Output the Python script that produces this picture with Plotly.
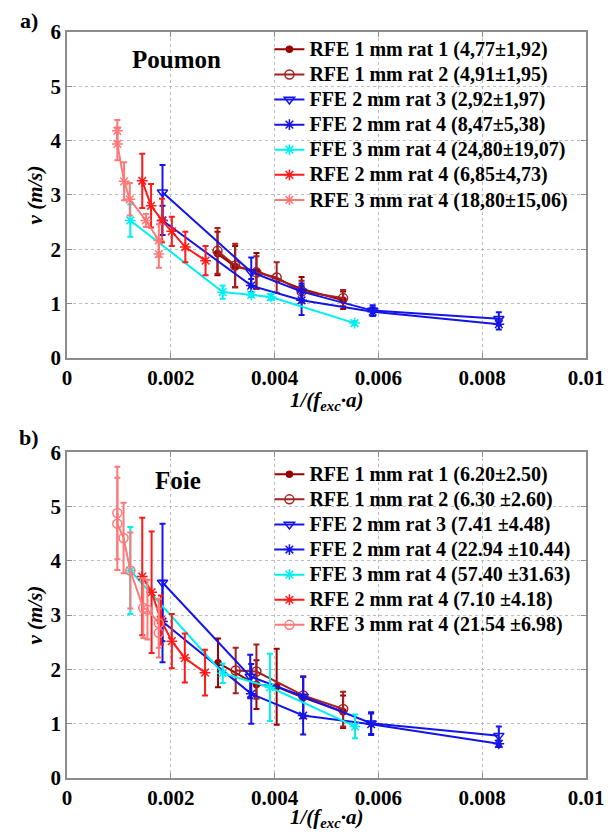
import plotly.graph_objects as go

# ---------------- data ----------------
# Panel a) Poumon
a_names = ["RFE 1 mm rat 1 (4,77±1,92)", "RFE 1 mm rat 2 (4,91±1,95)",
           "FFE 2 mm rat 3 (2,92±1,97)", "FFE 2 mm rat 4 (8,47±5,38)",
           "FFE 3 mm rat 4 (24,80±19,07)", "RFE 2 mm rat 4 (6,85±4,73)",
           "RFE 3 mm rat 4 (18,80±15,06)"]
a1_x = [0.00290, 0.00324, 0.00365, 0.00452, 0.00532]
a1_y = [1.92, 1.68, 1.60, 1.27, 1.06]
a1_e = [0.40, 0.38, 0.33, 0.22, 0.16]
a2_x = [0.00290, 0.00324, 0.00365, 0.00404, 0.00452, 0.00532]
a2_y = [1.97, 1.70, 1.57, 1.48, 1.22, 1.10]
a2_e = [0.42, 0.40, 0.30, 0.28, 0.20, 0.15]
a3_x = [0.00184, 0.00355, 0.00452, 0.00589, 0.00832]
a3_y = [3.05, 1.58, 1.22, 0.87, 0.72]
a3_e = [0.50, 0.27, 0.15, 0.10, 0.12]
a4_x = [0.00184, 0.00355, 0.00452, 0.00589, 0.00832]
a4_y = [2.53, 1.33, 1.06, 0.85, 0.62]
a4_e = [0.27, 0.12, 0.27, 0.08, 0.10]
a5_x = [0.00122, 0.00300, 0.00355, 0.00393, 0.00554]
a5_y = [2.53, 1.21, 1.16, 1.12, 0.64]
a5_e = [0.30, 0.12, 0.04, 0.05, 0.04]
a6_x = [0.00145, 0.00162, 0.00183, 0.00202, 0.00228, 0.00267]
a6_y = [3.26, 2.80, 2.53, 2.33, 2.04, 1.79]
a6_e = [0.50, 0.40, 0.40, 0.27, 0.28, 0.27]
a7_x = [0.00097, 0.00097, 0.00110, 0.00121, 0.00152, 0.00177, 0.00177]
a7_y = [4.18, 3.94, 3.25, 2.92, 2.53, 2.16, 1.91]
a7_e = [0.20, 0.30, 0.35, 0.30, 0.12, 0.30, 0.25]

# Panel b) Foie
b_names = ["RFE 1 mm rat 1 (6.20±2.50)", "RFE 1 mm rat 2 (6.30 ±2.60)",
           "FFE 2 mm rat 3 (7.41 ±4.48)", "FFE 2 mm rat 4 (22.94 ±10.44)",
           "FFE 3 mm rat 4 (57.40 ±31.63)", "RFE 2 mm rat 4 (7.10 ±4.18)",
           "RFE 3 mm rat 4 (21.54 ±6.98)"]
b1_x = [0.00291, 0.00365, 0.00404, 0.00455, 0.00532]
b1_y = [2.12, 1.72, 1.68, 1.48, 1.22]
b1_e = [0.45, 0.45, 0.70, 0.38, 0.30]
b2_x = [0.00325, 0.00365, 0.00455, 0.00532]
b2_y = [1.98, 1.96, 1.52, 1.27]
b2_e = [0.42, 0.50, 0.35, 0.32]
b3_x = [0.00184, 0.00353, 0.00455, 0.00586, 0.00832]
b3_y = [3.60, 1.87, 1.50, 1.01, 0.78]
b3_e = [1.08, 0.40, 0.37, 0.20, 0.17]
b4_x = [0.00184, 0.00355, 0.00455, 0.00586, 0.00832]
b4_y = [2.88, 1.55, 1.15, 0.99, 0.63]
b4_e = [0.75, 0.55, 0.35, 0.20, 0.06]
b5_x = [0.00122, 0.00300, 0.00391, 0.00555]
b5_y = [3.82, 1.93, 1.67, 0.95]
b5_e = [0.80, 0.18, 0.62, 0.22]
b6_x = [0.00145, 0.00163, 0.00181, 0.00202, 0.00227, 0.00266]
b6_y = [3.71, 3.42, 2.91, 2.52, 2.21, 1.94]
b6_e = [1.08, 1.12, 0.45, 0.50, 0.45, 0.42]
b7_x = [0.00097, 0.00097, 0.00109, 0.00122, 0.00147, 0.00155, 0.00177, 0.00177]
b7_y = [4.88, 4.68, 4.42, 3.82, 3.13, 3.10, 2.85, 2.67]
b7_e = [0.85, 0.85, 0.65, 0.70, 0.55, 0.55, 0.45, 0.45]

x_ticks = [0, 0.002, 0.004, 0.006, 0.008, 0.01]
x_ticklabels = ["0", "0.002", "0.004", "0.006", "0.008", "0.01"]
y_ticks = [0, 1, 2, 3, 4, 5, 6]

x_title = "<i>1/(f<sub>exc</sub>·a)</i>"
y_title = "<i>v (m/s)</i>"

# ---------------- styles ----------------
colors = ["#990000", "#A52020", "#1414F0", "#1414E6", "#00F0F0", "#FF1A1A", "#FF7878"]
sym_a = ["circle", "circle-open", "triangle-down-open", "asterisk-open",
         "asterisk-open", "asterisk-open", "asterisk-open"]
sym_b = ["circle", "circle-open", "triangle-down-open", "asterisk-open",
         "asterisk-open", "asterisk-open", "circle-open"]
sizes = {"circle": 6, "circle-open": 9, "triangle-down-open": 9, "asterisk-open": 9}

FONT = "'Liberation Serif', 'Times New Roman', Times, 'DejaVu Serif', serif"

fig = go.Figure()

a_data = [(a1_x, a1_y, a1_e), (a2_x, a2_y, a2_e), (a3_x, a3_y, a3_e), (a4_x, a4_y, a4_e),
          (a5_x, a5_y, a5_e), (a6_x, a6_y, a6_e), (a7_x, a7_y, a7_e)]
b_data = [(b1_x, b1_y, b1_e), (b2_x, b2_y, b2_e), (b3_x, b3_y, b3_e), (b4_x, b4_y, b4_e),
          (b5_x, b5_y, b5_e), (b6_x, b6_y, b6_e), (b7_x, b7_y, b7_e)]


def add_series(data, names, syms, xa, ya, leg):
    for i, ((x, y, e), name, s) in enumerate(zip(data, names, syms)):
        c = colors[i]
        fig.add_trace(go.Scatter(
            x=x, y=y, mode="lines+markers",
            name='<span style="font-size:20px">' + name + '</span>',
            xaxis=xa, yaxis=ya, legend=leg,
            line=dict(color=c, width=2),
            marker=dict(symbol=s, size=sizes[s], color=c,
                        line=dict(color=c, width=1.5)),
            error_y=dict(type="data", array=e, visible=True, color=c,
                         thickness=2, width=3),
        ))


add_series(a_data, a_names, sym_a, "x", "y", "legend")
add_series(b_data, b_names, sym_b, "x2", "y2", "legend2")

axis_common = dict(
    showline=True, mirror="ticks", linecolor="#8c8c8c", linewidth=1.5,
    ticks="inside", ticklen=5, tickcolor="#8c8c8c",
    showgrid=True, gridcolor="#bdbdbd", griddash="dot", gridwidth=1,
    zeroline=False,
    tickfont=dict(family=FONT, size=21, color="black", weight="bold"),
)

title_font = dict(family=FONT, size=21, color="black", weight="bold")
yt = dict(text=y_title, font=title_font, standoff=2)

# The page body adds an 8px offset, so the figure is 8px smaller and margins shifted.
fig.update_layout(
    width=608, height=831,
    margin=dict(l=59, r=21, t=23, b=61),
    paper_bgcolor="white", plot_bgcolor="white",
    showlegend=True,
    xaxis=dict(domain=[0, 1], anchor="y", range=[0, 0.01], tickvals=x_ticks,
               ticktext=x_ticklabels, **axis_common),
    yaxis=dict(domain=[0.5632, 1], anchor="x", range=[0, 6], tickvals=y_ticks,
               title=yt, **axis_common),
    xaxis2=dict(domain=[0, 1], anchor="y2", range=[0, 0.01], tickvals=x_ticks,
                ticktext=x_ticklabels, **axis_common),
    yaxis2=dict(domain=[0, 0.4368], anchor="x2", range=[0, 6], tickvals=y_ticks,
                title=yt, **axis_common),
    legend=dict(x=0.39, y=1.0003, xanchor="left", yanchor="top",
                bgcolor="rgba(0,0,0,0)", borderwidth=0,
                font=dict(family=FONT, size=17, color="black", weight="bold")),
    legend2=dict(x=0.39, y=0.4307, xanchor="left", yanchor="top",
                 bgcolor="rgba(0,0,0,0)", borderwidth=0,
                 font=dict(family=FONT, size=17, color="black", weight="bold")),
    annotations=[
        dict(text=x_title, x=0.5, y=0.506, xref="paper", yref="paper",
             xanchor="center", yanchor="middle", showarrow=False, font=title_font),
        dict(text=x_title, x=0.5, y=-0.0535, xref="paper", yref="paper",
             xanchor="center", yanchor="middle", showarrow=False, font=title_font),
        dict(text="a)", x=-0.074, y=1.016, xref="paper", yref="paper",
             xanchor="center", yanchor="middle", showarrow=False,
             font=dict(family=FONT, size=22, color="black", weight="bold")),
        dict(text="b)", x=-0.074, y=0.4565, xref="paper", yref="paper",
             xanchor="center", yanchor="middle", showarrow=False,
             font=dict(family=FONT, size=22, color="black", weight="bold")),
        dict(text="Poumon", x=0.2115, y=0.9632, xref="paper", yref="paper",
             xanchor="center", yanchor="middle", showarrow=False,
             font=dict(family=FONT, size=25, color="black", weight="bold")),
        dict(text="Foie", x=0.2146, y=0.399, xref="paper", yref="paper",
             xanchor="center", yanchor="middle", showarrow=False,
             font=dict(family=FONT, size=25, color="black", weight="bold")),
    ],
)

fig.write_html("out.html")
